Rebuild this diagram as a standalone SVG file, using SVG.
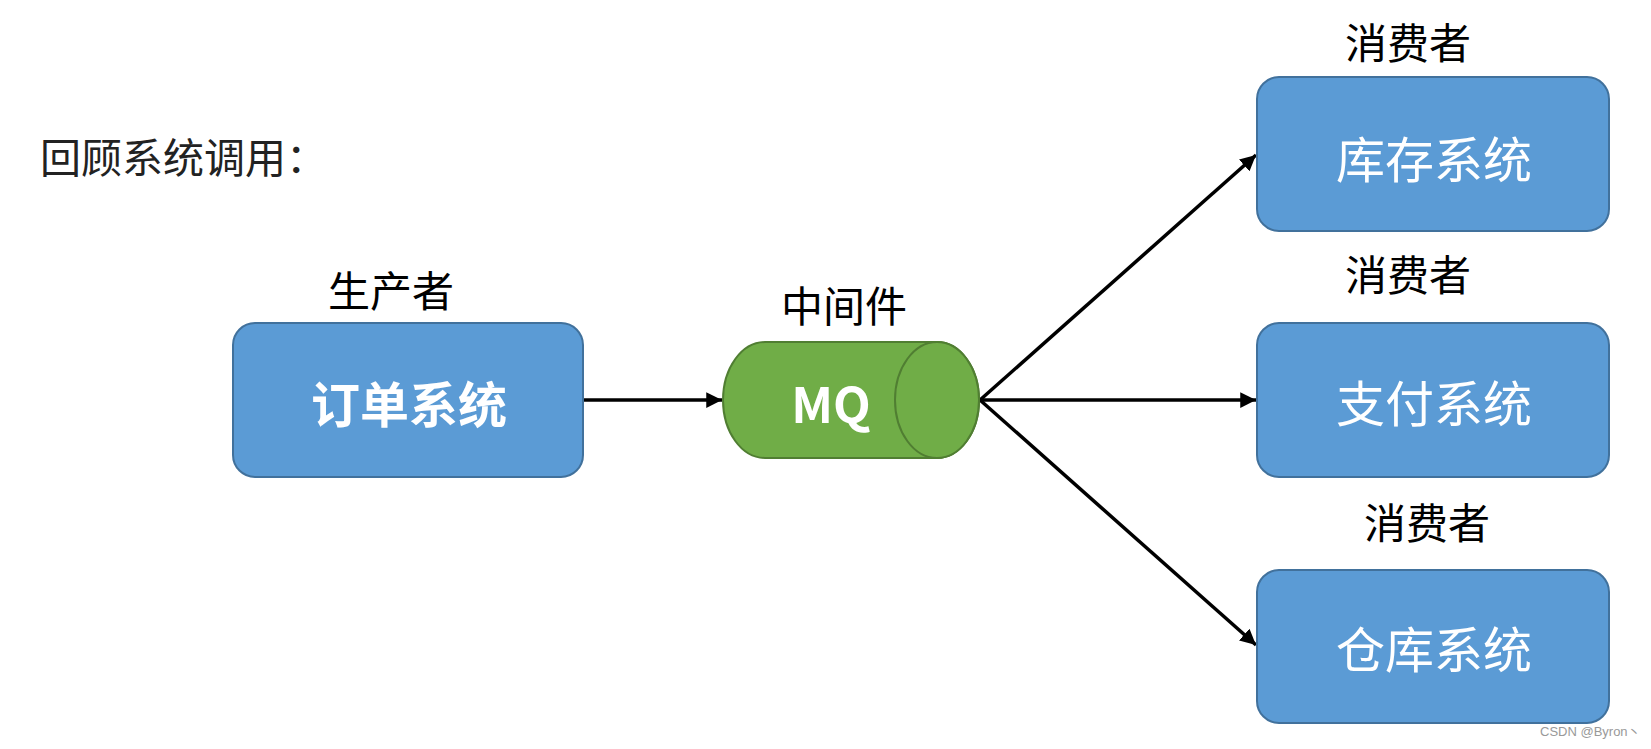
<svg xmlns="http://www.w3.org/2000/svg" width="1651" height="749" viewBox="0 0 1651 749">
<style>
.box{fill:#5B9BD5;stroke:#41719C;stroke-width:2}
.lbl{font-family:"Noto Sans CJK SC","Noto Sans",sans-serif;font-size:42px;fill:#000;text-anchor:middle}
.in{font-family:"Noto Sans CJK SC","Noto Sans",sans-serif;font-size:49px;fill:#fff;text-anchor:middle;dominant-baseline:central}
.conn{stroke:#000;stroke-width:3.5;fill:none;marker-end:url(#ah)}
</style>
<defs>
<marker id="ah" viewBox="0 0 10 10" refX="10" refY="5" markerWidth="4.5" markerHeight="4.5" orient="auto" markerUnits="strokeWidth">
<path d="M0,0 L10,5 L0,10 z" fill="#000"/>
</marker>
</defs>
<rect width="1651" height="749" fill="#fff"/>
<text x="40" y="173" font-family="'Noto Sans CJK SC','Noto Sans',sans-serif" font-size="41" fill="#222">回顾系统调用：</text>
<g id="connectors">
<line class="conn" x1="584" y1="400" x2="722" y2="400"/>
<line class="conn" x1="980" y1="400" x2="1256" y2="155"/>
<line class="conn" x1="980" y1="400" x2="1256" y2="400"/>
<line class="conn" x1="980" y1="400" x2="1256" y2="645"/>
</g>
<g id="producer">
<text class="lbl" x="391" y="307">生产者</text>
<rect class="box" x="233" y="323" width="350" height="154" rx="22"/>
<text class="in" x="409" y="401" font-weight="bold" font-size="48">订单系统</text>
</g>
<g id="mq">
<text class="lbl" x="844" y="322">中间件</text>
<path d="M765,342 L937,342 A42,58 0 0 1 937,458 L765,458 A42,58 0 0 1 765,342 z" fill="#70AD47" stroke="#507E32" stroke-width="2"/>
<ellipse cx="937" cy="400" rx="42" ry="58" fill="#70AD47" stroke="#507E32" stroke-width="2"/>
<text class="in" x="831" y="401" font-family="'Noto Sans','Liberation Sans',sans-serif" font-size="44" font-weight="bold">MQ</text>
</g>
<g id="inventory">
<text class="lbl" x="1408" y="59">消费者</text>
<rect class="box" x="1257" y="77" width="352" height="154" rx="22"/>
<text class="in" x="1434" y="156">库存系统</text>
</g>
<g id="payment">
<text class="lbl" x="1408" y="291">消费者</text>
<rect class="box" x="1257" y="323" width="352" height="154" rx="22"/>
<text class="in" x="1434" y="400">支付系统</text>
</g>
<g id="warehouse">
<text class="lbl" x="1427" y="539">消费者</text>
<rect class="box" x="1257" y="570" width="352" height="153" rx="22"/>
<text class="in" x="1434" y="646">仓库系统</text>
</g>
<text x="1540" y="736" font-family="'Liberation Sans','Noto Sans CJK SC',sans-serif" font-size="13" fill="#999">CSDN @Byron丶</text>
</svg>
